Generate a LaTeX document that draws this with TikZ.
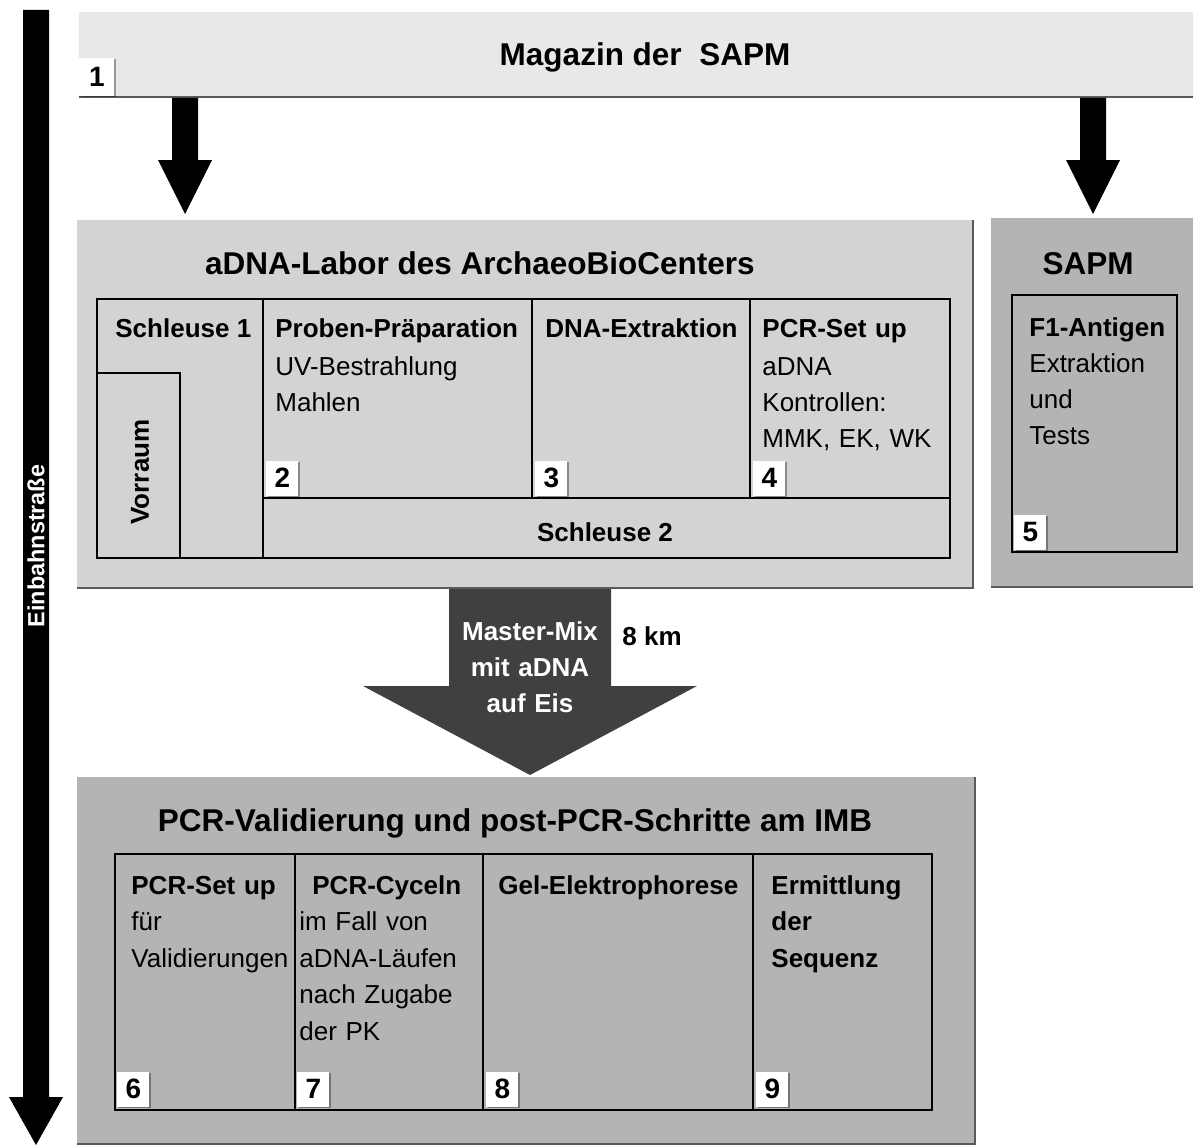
\documentclass[tikz,border=0pt]{standalone}
\usepackage{fontspec}
\setmainfont{Liberation Sans}
\usetikzlibrary{shadows}
\definecolor{barfill}{HTML}{E8E8E8}
\definecolor{labfill}{HTML}{D3D3D3}
\definecolor{imbfill}{HTML}{B4B4B4}
\definecolor{mixfill}{HTML}{404040}
\definecolor{edgegray}{HTML}{5A5A5A}
\begin{document}
\begin{tikzpicture}[x=0.5pt,y=-0.5pt,
    title/.style={font=\fontsize{15.75}{18}\selectfont\bfseries, inner sep=0pt, anchor=base},
    cell/.style={font=\fontsize{13}{18}\selectfont, inner sep=0pt, anchor=base west, align=left},
    cellb/.style={cell, font=\fontsize{13}{18.25}\selectfont},
    numbox/.style={fill=white, font=\fontsize{14}{14}\selectfont\bfseries, inner sep=0pt,
        minimum width=16pt, minimum height=17.5pt, anchor=south west,
        drop shadow={shadow xshift=0.8pt, shadow yshift=-0.6pt, fill=black, opacity=0.35}},
    wall/.style={line width=1pt, black},
    rim/.style={line width=0.8pt, edgegray}]
    \useasboundingbox (0,0) rectangle (1193,1145);

    % Einbahnstrasse
    \fill (23,10) -- (49,10) -- (49,1097) -- (63,1097) -- (36,1145) -- (9,1097) -- (23,1097) -- cycle;
    \node[rotate=90, text=white, inner sep=0pt, font=\fontsize{11.7}{12}\selectfont\bfseries] (street) at (36,546) {Einbahnstraße};

    % Magazin
    \fill[barfill] (79,12) rectangle (1193,97);
    \draw[rim, line width=1pt] (79,97) -- (1193,97);
    \node[title] (magazin) at (645,66) {Magazin der\ \ SAPM};
    \node[numbox, minimum width=17.5pt, minimum height=19pt] (n1) at (79,96) {1};
    \foreach \cx in {185,1093}
        \fill (\cx-13,98) -- (\cx+13,98) -- (\cx+13,160) -- (\cx+27,160) -- (\cx,214) -- (\cx-27,160) -- (\cx-13,160) -- cycle;

    % aDNA-Labor
    \fill[labfill] (77,220) rectangle (973,588);
    \draw[rim] (973,220) -- (973,588) -- (77,588);
    \node[title] (labor) at (480,274) {aDNA-Labor des ArchaeoBioCenters};
    \draw[wall] (97,299) rectangle (950,558);
    \draw[wall] (263,299) -- (263,558);
    \draw[wall] (532,299) -- (532,498);
    \draw[wall] (750,299) -- (750,498);
    \draw[wall] (263,498) -- (950,498);
    \draw[wall] (97,373) -- (180,373) -- (180,558);
    \node[cell, font=\fontsize{13}{18}\selectfont\bfseries] (schleuse1) at (115,337) {Schleuse 1};
    \node[rotate=90, inner sep=0pt, font=\fontsize{13}{13}\selectfont\bfseries] (vorraum) at (140,472) {Vorraum};
    \node[cell, text width=125pt] (proben) at (275,337) {\textbf{Proben-Präparation}\\[1pt]UV-Bestrahlung\\Mahlen};
    \node[cell, text width=105pt] (extraktion) at (545,337) {\textbf{DNA-Extraktion}};
    \node[cell, text width=100pt] (setup) at (762,337) {\textbf{PCR-Set up}\\[1pt]aDNA\\Kontrollen:\\MMK, EK, WK};
    \node[title, font=\fontsize{13}{13}\selectfont\bfseries] (schleuse2) at (605,541) {Schleuse 2};
    \node[numbox] (n2) at (266,496) {2};
    \node[numbox] (n3) at (535,496) {3};
    \node[numbox] (n4) at (753,496) {4};

    % SAPM
    \fill[imbfill] (991,218) rectangle (1193,587);
    \draw[rim] (991,587) -- (1193,587);
    \node[title] (sapm) at (1088,274) {SAPM};
    \draw[wall] (1012,295) rectangle (1177,552);
    \node[cell, text width=80pt] (antigen) at (1029,336) {\textbf{F1-Antigen}\\Extraktion\\und\\Tests};
    \node[numbox] (n5) at (1014,550) {5};

    % Master-Mix
    \fill[mixfill] (449,589) -- (611,589) -- (611,686) -- (697,686) -- (530,775) -- (363,686) -- (449,686) -- cycle;
    \node[cell, anchor=base, align=center, text width=80pt, text=white, font=\fontsize{13}{18}\selectfont\bfseries] (mix) at (530,640) {Master-Mix\\mit aDNA\\auf Eis};
    \node[cell, font=\fontsize{13}{13}\selectfont\bfseries] (km) at (622,645) {8 km};

    % IMB
    \fill[imbfill] (77,777) rectangle (975,1145);
    \draw[rim] (975,777) -- (975,1144) -- (77,1144);
    \node[title] (imb) at (515,831) {PCR-Validierung und post-PCR-Schritte am IMB};
    \draw[wall] (115,854) rectangle (932,1110);
    \foreach \lx in {295,483,753}
        \draw[wall] (\lx,854) -- (\lx,1110);
    \node[cellb, text width=88pt] (validierung) at (131,894) {\textbf{PCR-Set up}\\für\\Validierungen};
    \node[cellb, text width=90pt] (cyceln) at (299,894) {\hspace*{6.5pt}\textbf{PCR-Cyceln}\\im Fall von\\aDNA-Läufen\\nach Zugabe\\der PK};
    \node[cellb, text width=130pt] (gel) at (498,894) {\textbf{Gel-Elektrophorese}};
    \node[cellb, text width=80pt, font=\fontsize{13}{18.25}\selectfont\bfseries] (sequenz) at (771,894) {Ermittlung\\der\\Sequenz};
    \node[numbox] (n6) at (117,1107) {6};
    \node[numbox] (n7) at (297,1107) {7};
    \node[numbox] (n8) at (486,1107) {8};
    \node[numbox] (n9) at (756,1107) {9};
\end{tikzpicture}
\end{document}
